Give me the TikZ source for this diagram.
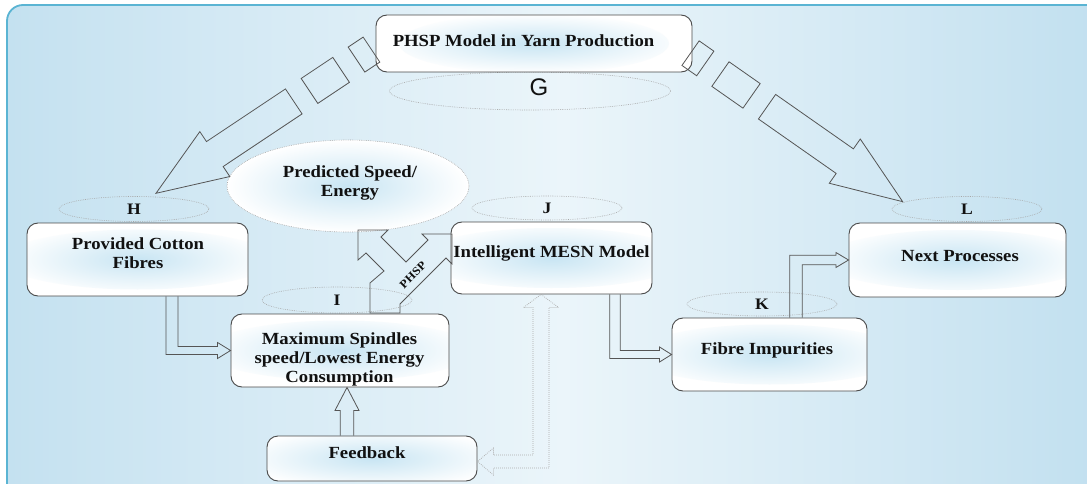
\documentclass[tikz,border=0pt]{standalone}
\usepackage{fontspec}
\setmainfont{Liberation Serif}[FakeStretch=1.1]
\newfontfamily\gfont{Liberation Sans}
\usetikzlibrary{shapes.geometric,calc}
\definecolor{panelL}{HTML}{C4E1F0}
\definecolor{panelM}{HTML}{EBF5FA}
\definecolor{panelR}{HTML}{C0DFEF}
\definecolor{panelB}{HTML}{5AB4D3}
\definecolor{boxline}{HTML}{4A4A4A}
\definecolor{arrowline}{HTML}{555555}
\definecolor{glow}{HTML}{C8E5F3}
\definecolor{txt}{HTML}{111111}

\newcommand\hollowdownright[6]{%
 \draw[hollow] let \p1=(#1), \p2=(#2) in
 (\x1-#3pt,\y1) -- (\x1-#3pt,\y2-#4pt) -- (\x2-#6pt,\y2-#4pt) -- (\x2-#6pt,\y2-#5pt) -- (\x2,\y2)
 -- (\x2-#6pt,\y2+#5pt) -- (\x2-#6pt,\y2+#4pt) -- (\x1+#3pt,\y2+#4pt) -- (\x1+#3pt,\y1);}
\newcommand\hollowupright[6]{%
 \draw[hollow] let \p1=(#1), \p2=(#2) in
 (\x1-#3pt,\y1) -- (\x1-#3pt,\y2+#4pt) -- (\x2-#6pt,\y2+#4pt) -- (\x2-#6pt,\y2+#5pt) -- (\x2,\y2)
 -- (\x2-#6pt,\y2-#5pt) -- (\x2-#6pt,\y2-#4pt) -- (\x1+#3pt,\y2-#4pt) -- (\x1+#3pt,\y1);}
\newcommand\fatchain[2]{%
 \begin{scope}[shift={(#1)}, rotate=#2]
  \draw[fat] (0,0) -- (-70.7,27) -- (-70.7,15) -- (-165.6,15) -- (-165.6,-15) -- (-70.7,-15) -- (-70.7,-27) -- cycle;
  \draw[fat] (-222.5,-15) rectangle (-184.5,15);
 \end{scope}}
\newcommand\fatsmall[2]{%
 \begin{scope}[shift={(#1)}, rotate=#2]
  \draw[fat] (-259,-15) rectangle (-241,15);
 \end{scope}}

\begin{document}
\begin{tikzpicture}[x=1pt,y=-1pt,
  box/.style={draw=boxline, line width=0.9pt, rounded corners=11pt, fill=white, inner sep=0pt,
    path picture={\shade[inner color=glow, outer color=white] (path picture bounding box.center) ellipse [x radius=135pt, y radius=30pt];}},
  lab/.style={font=\bfseries\fontsize{17}{19}\selectfont, text=txt, align=center, inner sep=0pt},
  tag/.style={ellipse, draw=gray!70, dash pattern=on 0.7pt off 1.1pt, line width=0.6pt, inner sep=0pt,
    font=\bfseries\fontsize{16}{18}\selectfont, text=txt},
  fat/.style={draw=arrowline, line width=0.8pt, line join=miter},
  hollow/.style={draw=arrowline, line width=0.8pt, line join=miter},
  dothollow/.style={draw=gray!65, line width=0.7pt, dash pattern=on 0.8pt off 1.2pt}
]
\useasboundingbox (0,0) rectangle (1087,484);
\fill[white] (0,0) rectangle (1087,484);
\shade[left color=panelL, right color=panelR, middle color=panelM, rounded corners=16pt]
  (7,520) -- (7,5) -- (1120,5) -- (1120,520) -- cycle;
\draw[panelB, line width=1.8pt, rounded corners=16pt] (7,520) -- (7,5) -- (1120,5);

% label ellipses
\node[tag, minimum width=281pt, minimum height=38pt] (gE) at (530,91) {};
\node[font=\gfont\fontsize{24}{28}\selectfont, text=txt] (gL) at (539,87) {G};
\node[tag, minimum width=150pt, minimum height=25pt] (hE) at (134,209) {H};
\node[tag, minimum width=150pt, minimum height=26pt] (iE) at (337,300) {I};
\node[tag, minimum width=150pt, minimum height=24pt] (jE) at (547,208) {J};
\node[tag, minimum width=150pt, minimum height=24pt] (kE) at (762,304) {K};
\node[tag, minimum width=150pt, minimum height=25pt] (lE) at (967,209) {L};

% predicted ellipse
\node[ellipse, draw=gray!70, dash pattern=on 0.7pt off 1.1pt, line width=0.6pt, inner sep=0pt,
  minimum width=242pt, minimum height=92pt, inner color=glow, outer color=white] (pred) at (348,186) {};
\node[lab] (predT) at (350,182.5) {Predicted Speed/\\Energy};

% big fat arrows
\coordinate (tipH) at (156,193.3);
\coordinate (tipL) at (902.7,201.7);
\fatchain{tipH}{213.7}
\fatchain{tipL}{-35}

% boxes
\node[box, minimum width=316pt, minimum height=57pt] (top) at (534,43.5) {};
\node[box, minimum width=221pt, minimum height=73pt] (pcf) at (137.5,259.5) {};
\node[box, minimum width=218pt, minimum height=73pt] (msp) at (340,350.5) {};
\node[box, minimum width=201pt, minimum height=72pt] (mesn) at (551.5,258) {};
\node[box, minimum width=210pt, minimum height=45pt] (fb) at (372,458.5) {};
\node[box, minimum width=195pt, minimum height=73pt] (fib) at (769.5,354.5) {};
\node[box, minimum width=217pt, minimum height=74pt] (next) at (957.5,260) {};

\node[lab] (topT) at (523.5,41) {PHSP Model in Yarn Production};
\node[lab] (pcfT) at (138,253.5) {Provided Cotton\\Fibres};
\node[lab] (mspT) at (339.5,359) {Maximum Spindles\\speed/Lowest Energy\\Consumption};
\node[lab] (mesnT) at (551.5,253) {Intelligent MESN Model};
\node[lab] (fbT) at (367,453) {Feedback};
\node[lab] (fibT) at (767,350) {Fibre Impurities};
\node[lab] (nextT) at (960,256) {Next Processes};

\fatsmall{tipH}{213.7}
\fatsmall{tipL}{-35}

% hollow connectors
\hollowdownright{[xshift=34.5pt]pcf.south}{msp.west}{6}{4}{8}{13}
\hollowdownright{[xshift=63.5pt]mesn.south}{fib.west}{5.3}{4}{7.5}{12}
\hollowupright{[xshift=26.5pt]fib.north}{next.west}{6.3}{4.8}{7.5}{12.6}
\draw[hollow] let \p1=([xshift=-25pt]fb.north), \p2=(msp.south) in
  (\x1-6.7pt,\y1) -- (\x1-6.7pt,\y2-23pt) -- (\x1-12pt,\y2-23pt) -- (\x1,\y2)
  -- (\x1+12pt,\y2-23pt) -- (\x1+6.7pt,\y2-23pt) -- (\x1+6.7pt,\y1);
\draw[dothollow] let \p1=([xshift=-10.5pt]mesn.south), \p2=([yshift=-3pt]fb.east) in
  (\x1,\y1) -- (\x1+17.5pt,\y1-13pt) -- (\x1+8pt,\y1-13pt) -- (\x1+8pt,\y2-6.5pt)
  -- (\x2+16pt,\y2-6.5pt) -- (\x2+16pt,\y2-13.5pt) -- (\x2,\y2) -- (\x2+16pt,\y2+13.5pt)
  -- (\x2+16pt,\y2+6.5pt) -- (\x1-8pt,\y2+6.5pt) -- (\x1-8pt,\y1-13pt) -- (\x1-17.5pt,\y1-13pt) -- cycle;

% PHSP split arrow
\draw[fat] (370,313) -- (370,283) -- (384,271) -- (366,253) -- (358,260) -- (358,230) -- (388,230)
  -- (381,237) -- (406,262) -- (428,240) -- (422,234) -- (452,234) -- (452,264) -- (446,258)
  -- (400,304) -- (400,313) -- cycle;
\node[rotate=45, font=\bfseries\fontsize{11.5}{12}\selectfont, text=txt, inner sep=0pt] (phsp) at (413,275) {PHSP};
\end{tikzpicture}
\end{document}
